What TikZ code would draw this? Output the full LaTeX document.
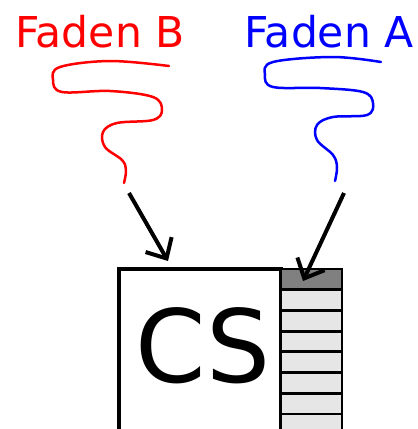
\documentclass[tikz,border=0pt]{standalone}
\usepackage{fontspec}
\setmainfont{DejaVu Sans}
\usetikzlibrary{arrows.meta}

\definecolor{slotdark}{RGB}{128,128,128}
\definecolor{slotlight}{RGB}{230,230,230}

\tikzset{
  fadenlabel/.style={anchor=base, inner sep=0pt, font=\fontsize{42.5}{42.5}\selectfont},
  fadenline/.style={line width=2.5pt, line cap=round, line join=round},
  pfeil/.style={line width=4pt, -{Straight Barb[length=16pt, width=30pt, line width=4pt]}},
  slot/.style={draw=black, line width=2.8pt, fill=slotlight},
}

\begin{document}
\begin{tikzpicture}[x=1pt, y=-1pt]
\useasboundingbox (0,0) rectangle (418,429);
\clip (0,0) rectangle (418,429);

% labels of the two threads
\node[fadenlabel, red]  (fadenB) at (100,47) {Faden B};
\node[fadenlabel, blue] (fadenA) at (329,47) {Faden A};

% thread B
\draw[fadenline, red] plot[smooth, tension=0.6] coordinates {
  (169,66) (110,61) (60,67) (53,80) (62,92) (110,91) (153,97) (162,110)
  (153,120) (117,123) (103,132) (105,147) (122,160) (126,170) (124,183)};

% thread A
\draw[fadenline, blue] plot[smooth, tension=0.6] coordinates {
  (381,62) (333,57) (273,62) (265,75) (273,87) (320,88) (363,92) (373,103)
  (367,115) (333,117) (317,125) (317,140) (333,155) (337,167) (335,181)};

% critical section with its queue
\draw[line width=3.2pt, fill=white] (119,269) rectangle (281,445);
\node[anchor=base, inner sep=0pt, font=\fontsize{101}{101}\selectfont] (cs) at (203,382) {CS};
\foreach \i in {1,...,8}
  \draw[slot] (281,{269+20.7*\i}) rectangle (342,{289.7+20.7*\i});
\draw[slot, fill=slotdark] (281,269) rectangle (342,289.7);
\coordinate (kopf) at (303,281);
\coordinate (eingang) at (168,261);

% arrows from the threads
\coordinate (startB) at (129,193);
\coordinate (startA) at (344,193);
\draw[pfeil] (startB) -- (eingang);
\draw[pfeil] (startA) -- (kopf);
\end{tikzpicture}
\end{document}
